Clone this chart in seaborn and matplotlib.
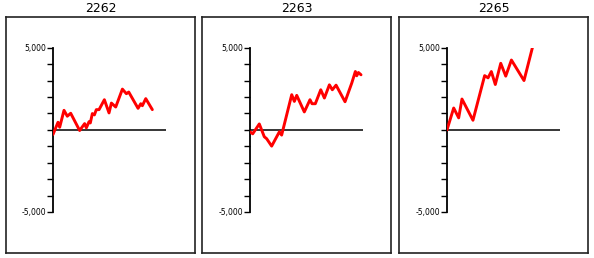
import matplotlib
matplotlib.use("Agg")
import matplotlib.pyplot as plt
import seaborn as sns
import pandas as pd

sns.set_theme(style="white")
plt.rcParams['font.family'] = ['DejaVu Sans']

titles = ["2262", "2263", "2265"]

x_2262 = [0, 4.4, 5.9, 9.7, 12.6, 15.6, 23.5, 27.9, 29.4, 31.8, 32.9, 34.7, 36.5, 38.2,
          40.6, 45.3, 49.4, 51.5, 55.3, 61.2, 64.7, 66.8, 75.0, 77.4, 78.8, 81.8, 87.6]
y_2262 = [-280, 460, 160, 1190, 830, 1010, -40, 380, 120, 500, 420, 990, 910, 1230,
          1230, 1835, 1030, 1630, 1390, 2480, 2200, 2300, 1310, 1590, 1470, 1900, 1230]

x_2263 = [0, 2.4, 8.2, 12.6, 14.7, 19.1, 25.9, 27.9, 36.8, 39.1, 41.2, 47.9, 52.9, 54.7,
          57.6, 62.4, 65.6, 70.0, 72.6, 75.9, 83.8, 89.7, 92.9, 94.1, 95.6, 97.9]
y_2263 = [-120, -240, 360, -420, -540, -990, -120, -320, 2140, 1730, 2100, 1090, 1835, 1590,
          1590, 2440, 1935, 2740, 2440, 2720, 1710, 2840, 3550, 3290, 3490, 3350]

x_2265 = [0, 5.9, 10.3, 13.2, 22.9, 33.2, 36.2, 39.1, 42.6, 47.4, 51.8, 56.8, 67.9, 75.3]
y_2265 = [0, 1330, 730, 1875, 585, 3300, 3165, 3550, 2760, 4050, 3270, 4250, 3000, 5000]

series = [(x_2262, y_2262), (x_2263, y_2263), (x_2265, y_2265)]

W, H = 594, 258
fig = plt.figure(figsize=(W / 100, H / 100), dpi=100)
fig.patch.set_facecolor("white")

frame_lefts = [6, 202, 399]
axis_lefts = [53, 250, 447]

for i, (title, (xs, ys)) in enumerate(zip(titles, series)):
    # outer frame
    fl = frame_lefts[i]
    fax = fig.add_axes([fl / W, 5 / H, 189 / W, 236 / H])
    fax.set_xticks([])
    fax.set_yticks([])
    fax.set_facecolor("white")
    for s in fax.spines.values():
        s.set_visible(True)
        s.set_color("#222222")
        s.set_linewidth(1.2)
    fig.text((fl + 94.5) / W, (H - 9) / H, title, ha="center", va="center",
             fontsize=9, color="black")

    # inner plot
    al = axis_lefts[i]
    ax = fig.add_axes([al / W, (H - 212) / H, 113.4 / W, 164.3 / H])
    ax.patch.set_alpha(0)
    df = pd.DataFrame({"x": xs, "y": ys})
    ax.axhline(0, color="black", linewidth=1.1, zorder=1)
    sns.lineplot(data=df, x="x", y="y", ax=ax, color="#ff0000", linewidth=2.1,
                 estimator=None, sort=False, zorder=3)
    ax.set_xlim(0, 100)
    ax.set_ylim(-5000, 5000)
    ax.set_xlabel("")
    ax.set_ylabel("")
    ax.set_xticks([])
    ticks = list(range(-5000, 5001, 1000))
    ax.set_yticks(ticks)
    ax.set_yticklabels(["-5,000" if t == -5000 else ("5,000" if t == 5000 else "") for t in ticks])
    ax.tick_params(axis="y", left=True, length=4, width=1.0, color="black",
                   labelsize=5.5, pad=1, labelcolor="black")
    for name, s in ax.spines.items():
        s.set_visible(name == "left")
    ax.spines["left"].set_color("black")
    ax.spines["left"].set_linewidth(1.3)
    ax.spines["left"].set_zorder(2)

fig.savefig("out.png", dpi=100, facecolor="white")
